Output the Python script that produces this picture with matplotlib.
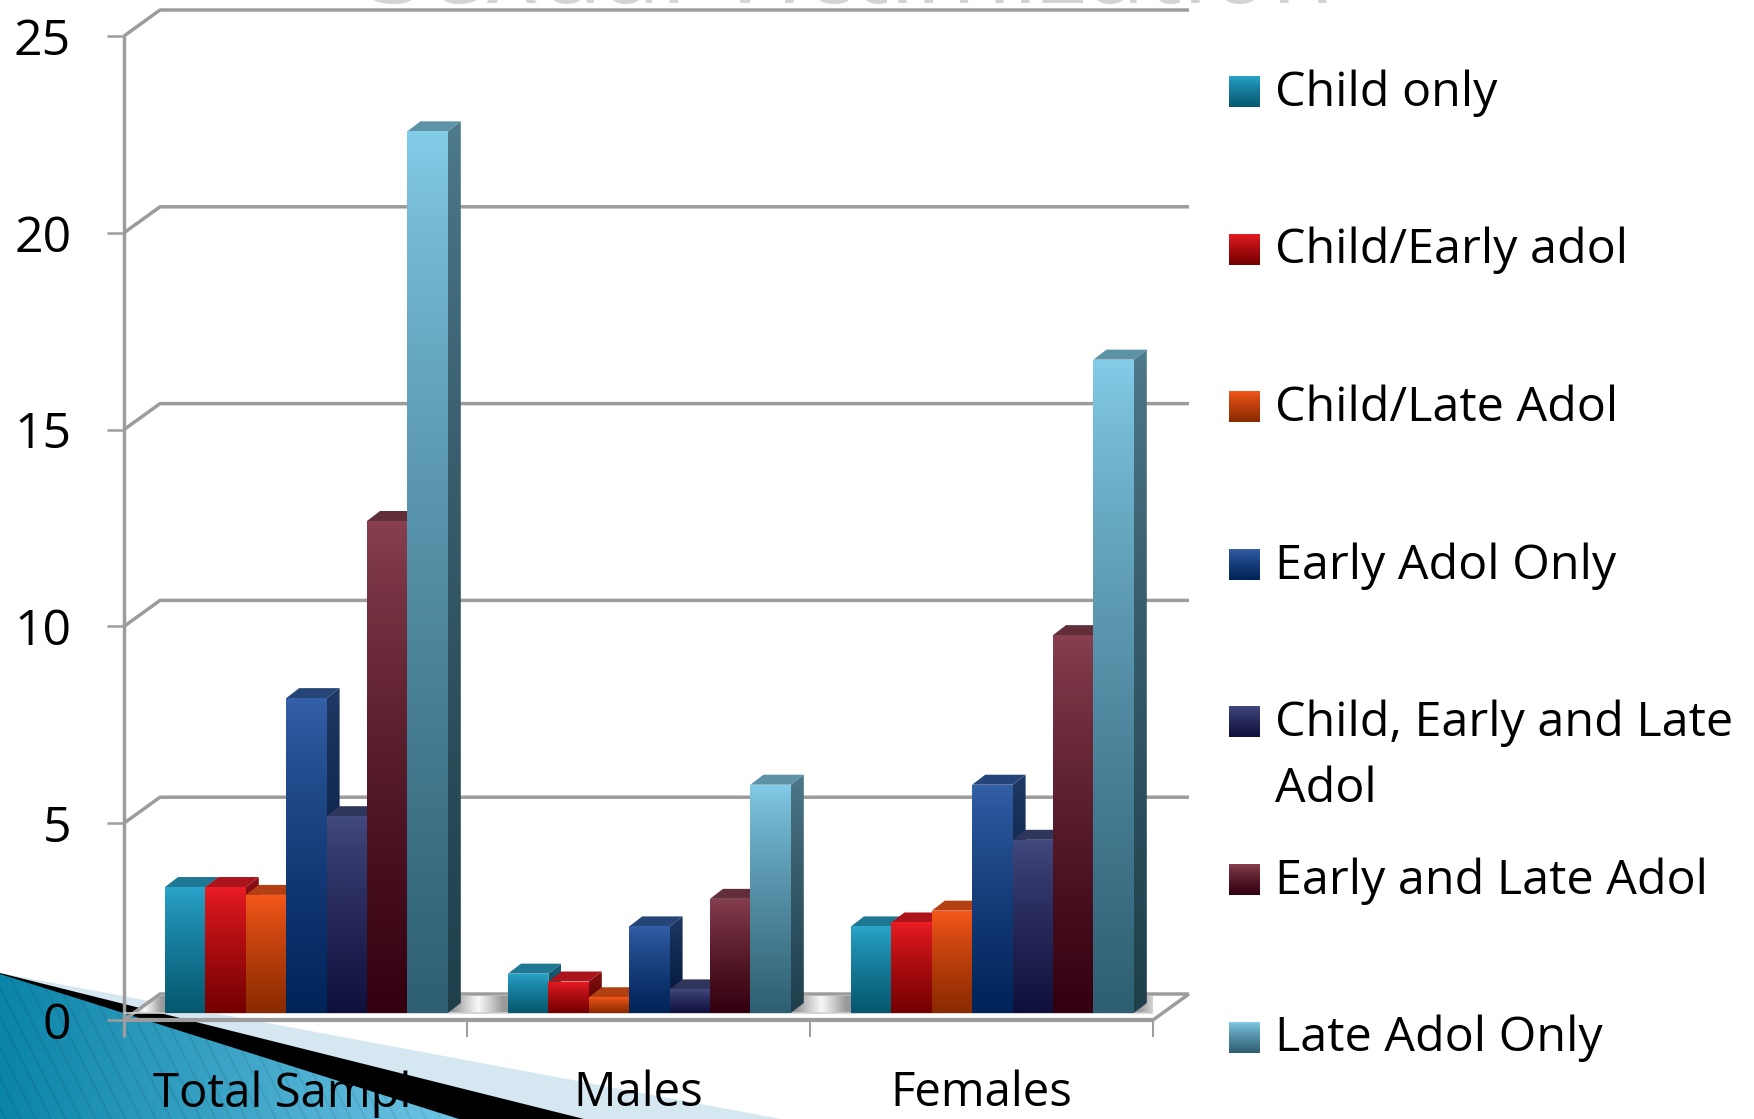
#!/usr/bin/env python3
"""Grouped pseudo-3D bar chart of victimization timing, with slide corner art."""

import numpy as np
import matplotlib
matplotlib.use('Agg')
import matplotlib.pyplot as plt
from matplotlib.colors import to_rgb
from matplotlib.patches import Polygon

W, H = 1754, 1119

groups = ['Total Sample', 'Males', 'Females']
series = ['Child only', 'Child/Early adol', 'Child/Late Adol', 'Early Adol Only',
          'Child, Early and Late\nAdol', 'Early and Late Adol', 'Late Adol Only']

child_only = [3.2, 1.0, 2.2]
child_early = [3.2, 0.8, 2.3]
child_late = [3.0, 0.4, 2.6]
early_only = [8.0, 2.2, 5.8]
child_early_late = [5.0, 0.6, 4.4]
early_late = [12.5, 2.9, 9.6]
late_only = [22.4, 5.8, 16.6]
values = [child_only, child_early, child_late, early_only,
          child_early_late, early_late, late_only]

top_colors = ['#2AA5CC', '#EC1C24', '#F9591A', '#3460A8', '#434A80', '#884050', '#83CCE8']
bottom_colors = ['#05586F', '#750000', '#8A2A00', '#002358', '#10103C', '#33000F', '#2F5F72']

yticks = [0, 5, 10, 15, 20, 25]
GRID = '#9c9c9c'
FONT = 'Open Sans'

# one x unit is a group (343 px), one y unit is 39.36 px
PX_X = 1 / 343
PX_Y = 1 / 39.36
WALL_DX, WALL_DY = 36 * PX_X, 26 * PX_Y
BAR_START, BAR_W = 41 * PX_X, 40.4 * PX_X
BAR_DX, BAR_DY = 13 * PX_X, 10 * PX_Y
BASE = 7 * PX_Y


def scaled(color, k):
    return tuple(c * k for c in to_rgb(color))


def gradient_face(ax, verts, top, bottom, zorder=3, flipped=False):
    """Fill a polygon with a vertical top-to-bottom gradient."""
    verts = np.array(verts)
    x0, x1 = verts[:, 0].min(), verts[:, 0].max()
    y0, y1 = verts[:, 1].min(), verts[:, 1].max()
    t = np.linspace(0, 1, 64)[:, None, None] ** 0.8
    img = (1 - t) * np.array(to_rgb(top)) + t * np.array(to_rgb(bottom))
    extent = (x0, x1, y1, y0) if flipped else (x0, x1, y0, y1)
    im = ax.imshow(img, extent=extent, origin='upper', aspect='auto',
                   interpolation='bilinear', zorder=zorder)
    poly = Polygon(verts, closed=True, transform=ax.transData)
    im.set_clip_path(poly)


def draw_bar(ax, x, val, top, bottom):
    y0, y1 = BASE, BASE + val
    r = x + BAR_W
    side = [(r, y0), (r + BAR_DX, y0 + BAR_DY), (r + BAR_DX, y1 + BAR_DY), (r, y1)]
    gradient_face(ax, side, scaled(top, 0.6), scaled(bottom, 0.66))
    cap = [(x, y1), (r, y1), (r + BAR_DX, y1 + BAR_DY), (x + BAR_DX, y1 + BAR_DY)]
    ax.add_patch(Polygon(cap, closed=True, facecolor=scaled(top, 0.72), edgecolor='none', zorder=3))
    front = [(x, y0), (r, y0), (r, y1), (x, y1)]
    gradient_face(ax, front, top, bottom)


def draw_corner(fig):
    """Slide decoration in the lower left, behind the chart."""
    bg = fig.add_axes([0, 0, 1, 1], zorder=0)
    bg.axis('off')
    bg.add_patch(Polygon([(0, 973), (781, H), (0, H)], facecolor='#D5E8F1', edgecolor='none'))
    bg.add_patch(Polygon([(0, 973), (584, H), (0, H)], facecolor='black', edgecolor='none'))
    xx, yy = np.meshgrid(np.arange(0, 460), np.arange(973, H))
    t = (xx / 459.0)[..., None]
    img = (1 - t) * np.array(to_rgb('#0A84A8')) + t * np.array(to_rgb('#6FC5E6'))
    stripes = ((xx - yy * 0.5) % 15 < 2.5)[..., None]
    img = img * (1 - 0.07 * stripes)
    im = bg.imshow(img, extent=(0, 460, H, 973), aspect='auto', interpolation='bilinear', zorder=2)
    im.set_clip_path(Polygon([(0, 974), (459, H), (0, H)], transform=bg.transData))
    bg.set_xlim(0, W)
    bg.set_ylim(H, 0)
    # remains of the slide title, cut off by the top edge
    bg.text(852, 3, 'Sexual Victimization', fontsize=75, family=FONT, color='#d4d4d4',
            ha='center', va='baseline', zorder=1)


def draw_legend(fig):
    lg = fig.add_axes([0, 0, 1, 1], zorder=2)
    lg.axis('off')
    for i, name in enumerate(series):
        cy = 91.5 + i * 157.6
        gradient_face(lg, [(1229, cy - 15.5), (1260, cy - 15.5), (1260, cy + 15.5), (1229, cy + 15.5)],
                      top_colors[i], bottom_colors[i], flipped=True)
        lines = name.split('\n')
        for j, line in enumerate(lines):
            lg.text(1275, cy - 4 + j * 66, line, fontsize=34.8, family=FONT, color='black',
                    ha='left', va='center_baseline')
    lg.set_xlim(0, W)
    lg.set_ylim(H, 0)


def main():
    fig = plt.figure(figsize=(W / 100, H / 100), dpi=100, facecolor='white')
    draw_corner(fig)

    ax = fig.add_axes([124 / W, (H - 1020) / H, 1029 / W, 984 / H], zorder=1)
    ax.patch.set_visible(False)
    for s in ax.spines.values():
        s.set_visible(False)

    line = dict(color=GRID, linewidth=2.5, clip_on=False, solid_capstyle='butt', zorder=2)

    # back wall gridlines and their diagonals down to the y axis
    for v in yticks:
        ax.plot([0, WALL_DX, 3 + WALL_DX], [v, v + WALL_DY, v + WALL_DY], **line)
        ax.plot([-17 * PX_X, 0], [v, v], **{**line, 'linewidth': 1.8})
    ax.plot([0, 0], [-17 * PX_Y, 25], **line)

    # floor: shaded gaps between the groups, then the front edge
    floor = [(0, 0), (3, 0), (3 + WALL_DX, WALL_DY), (WALL_DX, WALL_DY)]
    gaps = [(0, BAR_START)]
    for g in range(3):
        left = g + BAR_START + 7 * BAR_W
        right = g + 1 + BAR_START if g < 2 else 3 + WALL_DX
        gaps.append((left, right))
    for left, right in gaps:
        shade = np.array([[0.6, 0.8, 0.97, 0.8, 0.6]])
        im = ax.imshow(shade, cmap='gray', vmin=0, vmax=1, aspect='auto', interpolation='bilinear',
                       extent=(left, right, BASE, WALL_DY - 2 * PX_Y), zorder=1)
        im.set_clip_path(Polygon(floor, transform=ax.transData))
    ax.plot([0, 3], [BASE, BASE], color='#cfcfcf', linewidth=1.2, zorder=2)
    ax.plot([3, 3 + WALL_DX], [0, WALL_DY], **line)
    ax.plot([0, 3], [0, 0], **{**line, 'linewidth': 3})
    for g in range(1, 4):
        ax.plot([g, g], [-17 * PX_Y, 0], **{**line, 'linewidth': 1.4})

    for g in range(len(groups)):
        for i, vals in enumerate(values):
            draw_bar(ax, g + BAR_START + i * BAR_W, vals[g], top_colors[i], bottom_colors[i])

    ax.set_xlim(0, 3)
    ax.set_ylim(0, 25)
    ax.set_xticks([0.5, 1.5, 2.5], groups, fontsize=34, family=FONT)
    ax.set_yticks(yticks, [str(v) for v in yticks], fontsize=36, family=FONT)
    ax.tick_params(axis='x', length=0, pad=36, labelcolor='black')
    ax.tick_params(axis='y', length=0, pad=38, labelcolor='black')
    for lbl in ax.get_yticklabels():
        lbl.set_va('center_baseline')

    draw_legend(fig)
    fig.savefig('out.png', dpi=100)


if __name__ == '__main__':
    main()
